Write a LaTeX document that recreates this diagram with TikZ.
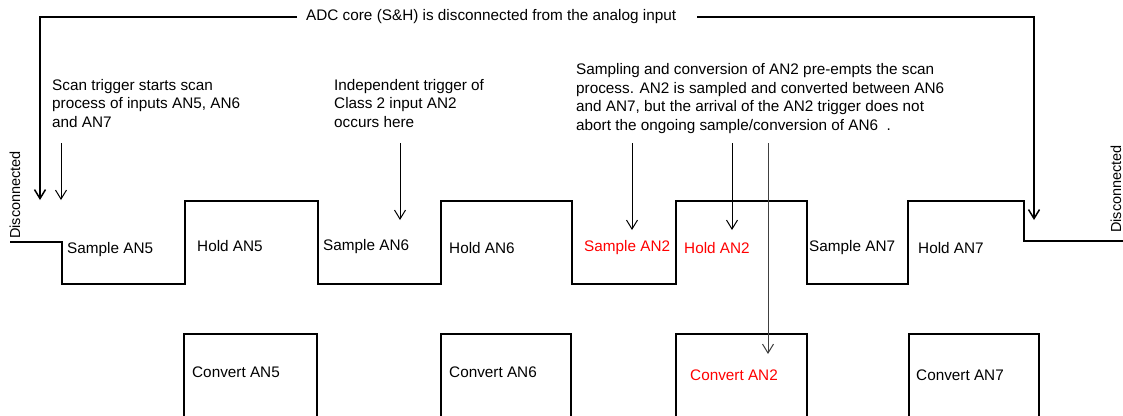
\documentclass[tikz,border=0pt]{standalone}
\usepackage{fontspec}
\setmainfont{Liberation Sans}
\usetikzlibrary{arrows.meta}
\begin{document}
\begin{tikzpicture}[x=1pt,y=-1pt,
  txt/.style={inner sep=0pt, font=\fontsize{15.3}{18.5}\selectfont},
  blk/.style={txt, align=left, anchor=base west},
  lab/.style={txt, anchor=west},
  hot/.style={text=red},
  vlab/.style={inner sep=0pt, font=\fontsize{14.5}{17}\selectfont, rotate=90},
  wave/.style={line width=2pt, line join=miter},
  boxline/.style={line width=2pt, line join=miter},
  arr/.style={line width=1pt, -{Straight Barb[length=9pt,width=11pt]}},
  garr/.style={arr, draw=black!75},
  conn/.style={line width=1.5pt, line join=miter, -{Straight Barb[length=9pt,width=11pt]}}]
\useasboundingbox (0,0) rectangle (1123,415);

% waveform
\draw[wave] (10,242) -- (62,242) -- (62,284) -- (185,284) -- (185,201) -- (318,201)
  -- (318,284) -- (441,284) -- (441,201) -- (572,201) -- (572,284) -- (676,284)
  -- (676,201) -- (807,201) -- (807,284) -- (908,284) -- (908,201) -- (1024,201)
  -- (1024,241) -- (1123,241);

% convert boxes
\draw[boxline] (184,416) |- (317,334) -- (317,416);
\draw[boxline] (441,416) |- (571,334) -- (571,416);
\draw[boxline] (676,416) |- (807,334) -- (807,416);
\draw[boxline] (909,416) |- (1039,334) -- (1039,416);

% waveform labels
\node[lab] (sa5) at (67,250) {Sample AN5};
\node[lab] (ho5) at (197,246) {Hold AN5};
\node[lab] (sa6) at (323,247) {Sample AN6};
\node[lab] (ho6) at (449,248) {Hold AN6};
\node[lab,hot] (sa2) at (584,248) {Sample AN2};
\node[lab,hot] (ho2) at (684,248) {Hold AN2};
\node[lab] (sa7) at (809,248) {Sample AN7};
\node[lab] (ho7) at (918,248) {Hold AN7};

% convert labels
\node[lab] (cv5) at (192,372) {Convert AN5};
\node[lab] (cv6) at (449,372) {Convert AN6};
\node[lab,hot] (cv2) at (690,375) {Convert AN2};
\node[lab] (cv7) at (916,375) {Convert AN7};

% disconnected labels
\node[vlab] (dl) at (15,195) {Disconnected};
\node[vlab] (dr) at (1116,189) {Disconnected};

% annotation texts (anchored at the baseline of their last line)
\node[blk] (t1) at (52,127) {Scan trigger starts scan\\process of inputs AN5, AN6\\and AN7};
\node[blk] (t2) at (334,127) {Independent trigger of\\Class 2 input AN2\\occurs here};
\node[blk] (t3) at (576,130) {Sampling and conversion of AN2 pre-empts the scan\\process. AN2 is sampled and converted between AN6\\and AN7, but the arrival of the AN2 trigger does not\\abort the ongoing sample/conversion of AN6\ \ .};

% top connector
\node[lab] (top) at (306,17) {ADC core (S\&H) is disconnected from the analog input};
\coordinate (tla) at (297,17);
\coordinate (tlb) at (40,17);
\coordinate (tlc) at (40,200);
\coordinate (tra) at (697,17);
\coordinate (trb) at (1034,17);
\coordinate (trc) at (1034,220);
\draw[conn] (tla) -- (tlb) -- (tlc);
\draw[conn] (tra) -- (trb) -- (trc);

% trigger arrows
\coordinate (a1s) at (61,143);  \coordinate (a1e) at (61,200);
\coordinate (a2s) at (400,143); \coordinate (a2e) at (400,220);
\coordinate (a3s) at (632,143); \coordinate (a3e) at (632,230);
\coordinate (a4s) at (732,143); \coordinate (a4e) at (732,230);
\coordinate (a5s) at (768,143); \coordinate (a5e) at (768,354);
\draw[arr] (a1s) -- (a1e);
\draw[arr] (a2s) -- (a2e);
\draw[arr] (a3s) -- (a3e);
\draw[arr] (a4s) -- (a4e);
\draw[garr] (a5s) -- (a5e);
\end{tikzpicture}
\end{document}
